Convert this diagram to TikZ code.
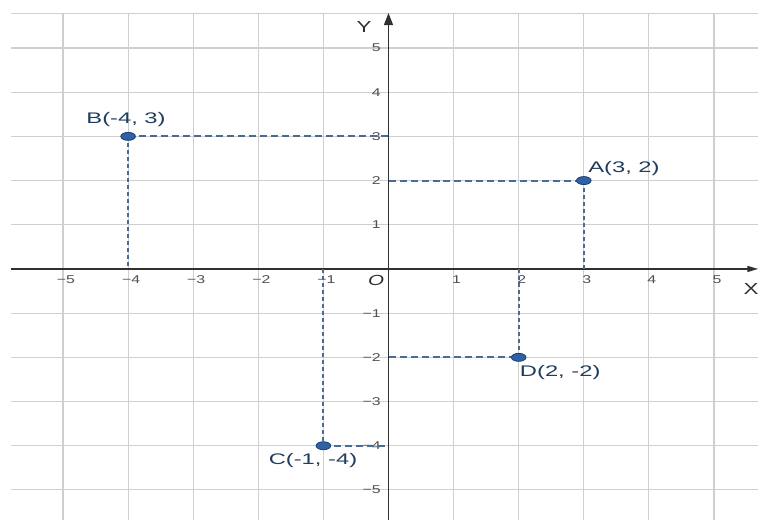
\documentclass[tikz,border=0pt]{standalone}
\usepackage{fontspec}
\setmainfont{Liberation Sans}
\usepackage{graphicx}
\usetikzlibrary{arrows.meta,shapes.geometric}
\definecolor{gridc}{HTML}{CFCFCF}
\definecolor{axisc}{HTML}{303030}
\definecolor{dashc}{HTML}{4A6B94}
\definecolor{dotfill}{HTML}{2E61A6}
\definecolor{dotdraw}{HTML}{1C3F70}
\definecolor{labc}{HTML}{1F3D5C}
\definecolor{tickc}{HTML}{505050}
\newcommand{\wideA}[1]{\scalebox{1.55}[1]{#1}}
\newcommand{\wideB}[1]{\scalebox{1.4}[1]{#1}}
\begin{document}
\begin{tikzpicture}[x=48.83pt,y=33.15pt,
  gridline/.style={draw=gridc,line width=0.8pt},
  axisline/.style={draw=axisc,line width=1.05pt},
  guideh/.style={draw=dashc,line width=1.4pt,dash pattern=on 5.25pt off 3pt},
  guidev/.style={draw=dashc,line width=1.4pt,dash pattern=on 3pt off 2.25pt},
  ptdot/.style={ellipse,fill=dotfill,draw=dotdraw,line width=0.6pt,minimum width=11pt,minimum height=6pt,inner sep=0pt},
  ptlab/.style={text=labc,font=\fontsize{11.5}{12}\selectfont,inner sep=0pt},
  xtick/.style={text=tickc,font=\fontsize{8.5}{9}\selectfont,inner sep=0pt},
  ytick/.style={text=tickc,font=\fontsize{8.5}{9}\selectfont,inner sep=0pt,anchor=east},
  axlab/.style={text=axisc,font=\fontsize{12}{13}\selectfont,inner sep=0pt}]
\useasboundingbox[fill=white] (-5.968,-5.679) rectangle (5.676,6.086);
% grid
\foreach \i in {-5,...,5} \draw[gridline] (\i,5.79) -- (\i,-5.679);
\foreach \j in {-5,...,5} \draw[gridline] (-5.80,\j) -- (5.676,\j);
\draw[gridline] (-5.80,5.79) -- (5.676,5.79);
% axes
\coordinate (xl) at (-5.80,0);
\coordinate (xr) at (5.676,0);
\coordinate (yb) at (0,-5.679);
\coordinate (yt) at (0,5.79);
\draw[axisline,-{Triangle[length=8pt,width=4.5pt]}] (xl) -- (xr);
\draw[axisline,-{Triangle[length=9pt,width=6.75pt]}] (yb) -- (yt);
% tick labels
\foreach \i/\t in {-5/−5,-4/−4,-3/−3,-2/−2,-1/−1,1/1,2/2,3/3,4/4,5/5}
  \node[xtick] (xt\i) at (\i+0.046,-0.249) {\wideB{\t}};
\foreach \j/\t in {5/5,4/4,3/3,2/2,1/1,-1/−1,-2/−2,-3/−3,-4/−4,-5/−5}
  \node[ytick] (yt\j) at (-0.115,\j) {\wideB{\t}};
\node[axlab,font=\fontsize{11}{12}\selectfont\itshape] (O) at (-0.192,-0.249) {\wideB{O}};
\node[axlab] (Ylab) at (-0.376,5.475) {\wideB{Y}};
\node[axlab] (Xlab) at (5.568,-0.452) {\wideB{X}};
% points and guides
\coordinate (pA) at (3,2);
\coordinate (pB) at (-4,3);
\coordinate (pC) at (-1,-4);
\coordinate (pD) at (2,-2);
\coordinate (Ax) at (3,0);  \coordinate (Ay) at (0,2);
\coordinate (Bx) at (-4,0); \coordinate (By) at (0,3);
\coordinate (Cx) at (-1,0); \coordinate (Cy) at (0,-4);
\coordinate (Dx) at (2,0);  \coordinate (Dy) at (0,-2);
\draw[guideh] (Ay) -- (pA);
\draw[guidev] (pA) -- (Ax);
\draw[guideh] (pB) -- (By);
\draw[guidev] (pB) -- (Bx);
\draw[guidev] (Cx) -- (pC);
\draw[guideh] (pC) -- (Cy);
\draw[guidev] (Dx) -- (pD);
\draw[guideh] (Dy) -- (pD);
\node[ptdot] (A) at (pA) {};
\node[ptdot] (B) at (pB) {};
\node[ptdot] (C) at (pC) {};
\node[ptdot] (D) at (pD) {};
\node[ptlab,anchor=west] (Alab) at (3.065,2.262) {\wideA{A(3, 2)}};
\node[ptlab] (Blab) at (-4.032,3.371) {\wideA{B(-4, 3)}};
\node[ptlab] (Clab) at (-1.16,-4.344) {\wideA{C(-1, -4)}};
\node[ptlab,anchor=west] (Dlab) at (2.015,-2.353) {\wideA{D(2, -2)}};
\end{tikzpicture}
\end{document}
